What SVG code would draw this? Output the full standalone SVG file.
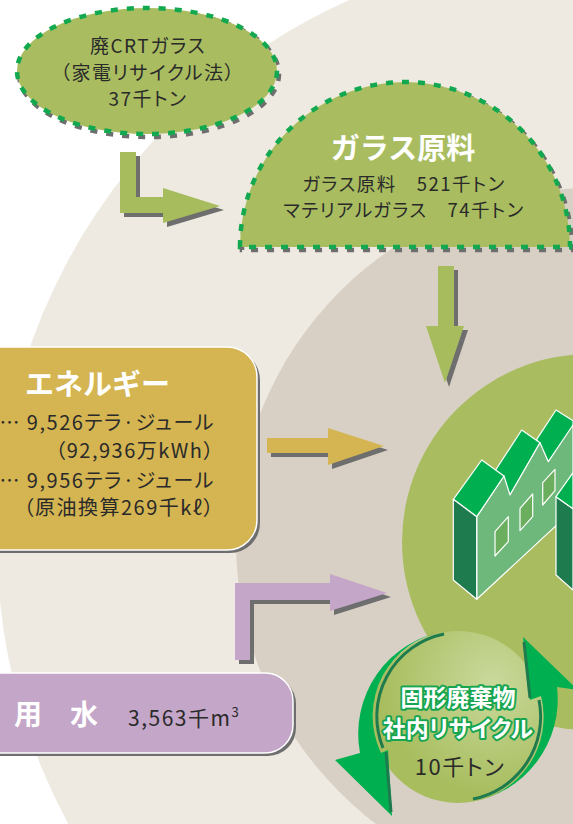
<svg xmlns="http://www.w3.org/2000/svg" width="573" height="824" viewBox="0 0 573 824">
  <defs>
    <style>
      .t { font-family: "Noto Sans CJK JP", "Noto Sans", sans-serif; fill: #2a2a2a; font-feature-settings: "palt" 1; letter-spacing: 1.5px; }
      .b { font-family: "Noto Sans CJK JP", "Noto Sans", sans-serif; font-weight: 700; fill: #ffffff; }
      .dash { fill: none; stroke: #12a84f; stroke-width: 4.5; stroke-dasharray: 7 9; }
      .dash-sh { fill: none; stroke: #6e6e6e; stroke-width: 4.5; stroke-dasharray: 7 9; }
      .sh { fill: #6e6e6e; }
      .lime { fill: #a7bd5d; }
      .roof { fill: #00b050; stroke: #ffffff; stroke-width: 1.2; stroke-linejoin: round; }
      .side { fill: #1e7b4d; stroke: #ffffff; stroke-width: 1.2; stroke-linejoin: round; }
      .front { fill: #6db87a; stroke: #ffffff; stroke-width: 1.2; stroke-linejoin: round; }
      .win { fill: #6aae5e; stroke: #ffffff; stroke-width: 1.2; stroke-linejoin: round; }
      .cyc { fill: #00b050; }
      .cyc-dk { fill: none; stroke: #1e7b4d; stroke-width: 3; }
    </style>
    <radialGradient id="glow" cx="0.7" cy="0.3" r="0.65">
      <stop offset="0" stop-color="#c9d99c"/>
      <stop offset="1" stop-color="#a8bd5e"/>
    </radialGradient>
  </defs>

  <!-- backdrop rings -->
  <rect width="573" height="824" fill="#ffffff"/>
  <circle cx="590" cy="542" r="593" fill="#eeeae1"/>
  <circle cx="590" cy="542" r="354" fill="#d8d0c5"/>
  <circle cx="590" cy="542" r="188" fill="#a9bd60"/>

  <!-- factory -->
  <g id="factory">
    <polygon class="roof" points="536.7,439.3 556,410 573,420.7 573,433 548.3,461.7"/>
    <polygon class="roof" points="495,471 521.7,430 540,442.7 510,495"/>
    <polygon class="front" points="476.7,599.3 476.7,516.7 504,476 510,495 540,442.7 548.3,461.7 573,425 573,510"/>
    <polygon class="roof" points="453.3,499.3 481.7,460 504,476 476.7,516.7"/>
    <polygon class="side" points="453.3,499.3 476.7,516.7 476.7,599.3 453.3,580"/>
    <polygon class="win" points="495,531.7 508.3,516.7 508.3,541.7 495,556"/>
    <polygon class="win" points="520,508.3 532.7,494 532.7,516.7 520,530.7"/>
    <polygon class="win" points="542.7,482.7 555,469.3 555,490.7 542.7,505"/>
    <polygon class="side" points="556,496.7 573,508.7 573,590 556,575"/>
    <polygon class="roof" points="556,496.7 573,472.7 573,508.7"/>
  </g>

  <!-- connectors -->
  <g id="connectors">
    <g id="arrow-crt">
      <polygon class="sh" transform="translate(4,4)" points="120,152 136,152 136,197 163,197 163,188 220,206 163,223 163,213 120,213"/>
      <polygon class="lime" points="120,152 136,152 136,197 163,197 163,188 220,206 163,223 163,213 120,213"/>
    </g>
    <g id="arrow-glass">
      <polygon class="sh" transform="translate(4,4)" points="438,266 454,266 454,326 464,326 445,383 426,326 438,326"/>
      <polygon class="lime" points="438,266 454,266 454,326 464,326 445,383 426,326 438,326"/>
    </g>
    <g id="arrow-energy">
      <polygon class="sh" transform="translate(4,4)" points="267,438 328,438 328,428 384,446 328,465 328,453 267,453"/>
      <polygon fill="#d4b552" points="267,438 328,438 328,428 384,446 328,465 328,453 267,453"/>
    </g>
    <g id="arrow-water">
      <polygon class="sh" transform="translate(4,4)" points="235,660 235,583 330,583 330,574 387,593 330,611 330,600 250,600 250,660"/>
      <polygon fill="#c4a6c8" points="235,660 235,583 330,583 330,574 387,593 330,611 330,600 250,600 250,660"/>
    </g>
  </g>

  <!-- CRT glass -->
  <g id="crt-glass">
    <ellipse class="dash-sh" cx="149" cy="74" rx="130" ry="63"/>
    <ellipse cx="147" cy="71" rx="130" ry="63" fill="#a9bd60"/>
    <ellipse class="dash" cx="147" cy="71" rx="130" ry="63"/>
    <text class="t" x="148" y="53" font-size="19" text-anchor="middle">廃CRTガラス</text>
    <text class="t" x="148" y="80" font-size="19" text-anchor="middle">（家電リサイクル法）</text>
    <text class="t" x="148" y="106" font-size="19" text-anchor="middle">37千トン</text>
  </g>

  <!-- glass raw material -->
  <g id="glass-material">
    <path class="dash-sh" transform="translate(2,3)" d="M240,247 A165,165 0 0 1 570,247 Z"/>
    <path d="M240,247 A165,165 0 0 1 570,247 Z" fill="#a9bd60"/>
    <path class="dash" d="M240,247 A165,165 0 0 1 570,247 Z"/>
    <text class="b" x="403" y="159" font-size="29" text-anchor="middle">ガラス原料</text>
    <text class="t" x="404" y="191" font-size="18.5" text-anchor="middle">ガラス原料　521千トン</text>
    <text class="t" x="404" y="217" font-size="18.5" text-anchor="middle">マテリアルガラス　74千トン</text>
  </g>

  <!-- energy -->
  <g id="energy">
    <rect class="sh" x="-30" y="350" width="290" height="203" rx="30"/>
    <rect x="-30" y="347" width="287" height="203" rx="30" fill="#d4b552" stroke="#ffffff" stroke-width="1.5"/>
    <text class="b" x="25" y="395" font-size="29">エネルギー</text>
    <text class="t" x="215" y="430" font-size="20" text-anchor="end">… 9,526テラ·ジュール</text>
    <text class="t" x="215" y="458" font-size="20" text-anchor="end">（92,936万kWh）</text>
    <text class="t" x="215" y="488" font-size="20" text-anchor="end">… 9,956テラ·ジュール</text>
    <text class="t" x="215" y="515" font-size="20" text-anchor="end">（原油換算269千kℓ）</text>
  </g>

  <!-- water -->
  <g id="water">
    <rect class="sh" x="-30" y="676" width="326" height="80" rx="28"/>
    <rect x="-30" y="673" width="323" height="80" rx="28" fill="#c4a6c8" stroke="#ffffff" stroke-width="1.5"/>
    <text class="b" x="14" y="725" font-size="28">用　水</text>
    <text class="t" x="128" y="726" font-size="21">3,563千m<tspan font-size="13" dy="-9">3</tspan></text>
  </g>

  <!-- in-house recycling -->
  <g id="in-house-recycling">
    <circle cx="458" cy="717" r="86" fill="url(#glow)"/>
    <path class="cyc" d="M446,631 A104,104 0 0 0 360,753 L335,760 L392,816 L388,750 L381,753 A86,86 0 0 1 446,631 Z"/>
    <path class="cyc-dk" d="M383,748 A84,84 0 0 1 444,634"/>
    <path class="cyc-dk" d="M386,752 L391,812"/>
    <path class="cyc" d="M470,802 A104,104 0 0 0 557,687 L578,690 L523,637 L530,700 L541,696 A86,86 0 0 1 470,802 Z"/>
    <path class="cyc-dk" d="M539,700 A84,84 0 0 1 473,799"/>
    <path class="cyc-dk" d="M530,698 L524,642"/>
    <text class="b" x="458" y="706" font-size="23" text-anchor="middle" stroke="#17a550" stroke-width="4" stroke-linejoin="round" paint-order="stroke">固形廃棄物</text>
    <text class="b" x="458" y="737" font-size="23" text-anchor="middle" stroke="#17a550" stroke-width="4" stroke-linejoin="round" paint-order="stroke" style="font-feature-settings: 'palt' 1">社内リサイクル</text>
    <text class="t" x="460" y="775" font-size="22" text-anchor="middle">10千トン</text>
  </g>
</svg>
